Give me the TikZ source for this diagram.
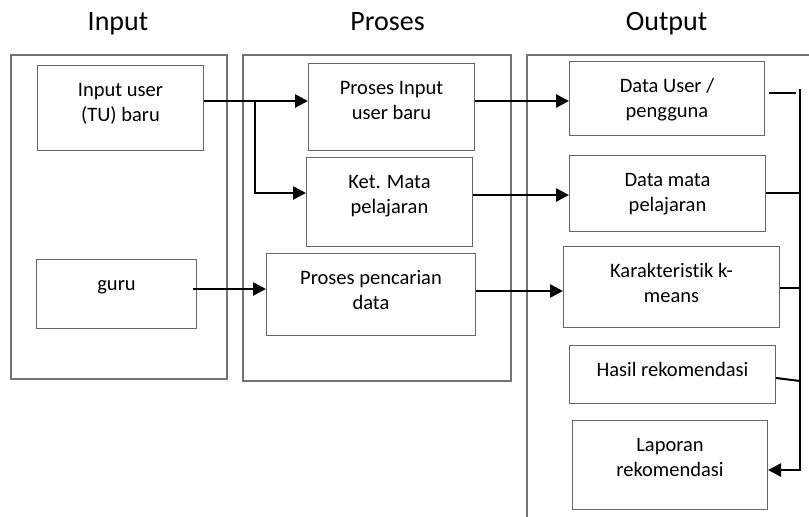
\documentclass[tikz,border=0pt]{standalone}
\usepackage{fontspec}
\setmainfont[Ligatures=CommonOff]{Carlito}
\usetikzlibrary{arrows.meta,calc}
\begin{document}
\begin{tikzpicture}[x=1pt,y=-1pt,
  group/.style={draw=black!55,line width=1.3pt},
  box/.style={draw=black!60,line width=1pt,inner sep=0pt,anchor=north west},
  txt/.style={anchor=base,inner sep=0pt,align=center,
    font=\fontsize{20.5}{25.5}\selectfont},
  title/.style={anchor=base,inner sep=0pt,font=\fontsize{28}{30}\selectfont},
  flow/.style={line width=2.6pt,-{Triangle[length=13pt,width=13pt]}},
  bus/.style={line width=2pt}]
\useasboundingbox (0,0) rectangle (809,517);

% column titles
\node[title] (tin) at (118,30.5) {Input};
\node[title] (tpr) at (387.5,30.5) {Proses};
\node[title] (tout) at (666.5,30.5) {Output};

% column frames
\draw[group] (11,55) rectangle (227,379);
\draw[group] (243,55) rectangle (511,381);
\draw[group] (527,517) -- (527,55) -- (809,55);

% boxes: name, top-left corner, size, baseline of the last text line, text
\newcommand{\procbox}[7]{%
  \node[box,minimum width=#4pt,minimum height=#5pt] (#1) at (#2,#3) {};
  \node[txt] (#1t) at ($(#1.north)+(0,#6)$) {#7};}
\procbox{iu}{37}{65}{166}{85}{56.5}{Input user\\(TU) baru}
\procbox{gu}{36}{259}{160}{69}{31}{guru}
\procbox{pi}{308}{63}{166}{87}{56.5}{Proses Input\\user baru}
\procbox{km}{306}{157}{166}{89}{56.5}{Ket. Mata\\pelajaran}
\procbox{pc}{266}{253}{209}{82}{56.5}{Proses pencarian\\data}
\procbox{du}{569}{61}{195}{74}{56.5}{Data User /\\pengguna}
\procbox{dm}{569}{155}{196}{76}{56.5}{Data mata\\pelajaran}
\procbox{kk}{563}{246}{216}{81}{56.5}{Karakteristik k-\\means}
\procbox{hr}{569}{345}{206}{58}{31}{Hasil rekomendasi}
\procbox{lr}{572}{420}{195}{89}{56.5}{Laporan\\rekomendasi}

% input to process
\coordinate (split) at (255,101);
\draw[flow] (iu.east |- split) -- (pi.west |- split);
\draw[flow] (split) |- (km.west |- 0,193);
\draw[flow] (gu.east |- 0,289) ++(-4,0) -- (pc.west |- 0,289);

% process to output
\draw[flow] (pi.east |- 0,101) -- (du.west |- 0,101);
\draw[flow] (km.east |- 0,195) -- (dm.west |- 0,195);
\draw[flow] (pc.east |- 0,291) -- (kk.west |- 0,291);

% collecting bus on the right
\coordinate (btop) at (800,89);
\coordinate (bbot) at (800,470);
\draw[bus] (btop) -- (bbot);
\draw[bus] ($(du.east |- 0,93)+(4,0)$) -- (796,93);
\draw[bus] (dm.east |- 0,193) -- (btop |- 0,193);
\draw[bus] (kk.east |- 0,288) -- (btop |- 0,288);
\draw[bus] (hr.east |- 0,378) -- (btop |- 0,381);
\draw[flow] ($(bbot)+(1,0)$) -- (lr.east |- bbot);
\end{tikzpicture}
\end{document}
